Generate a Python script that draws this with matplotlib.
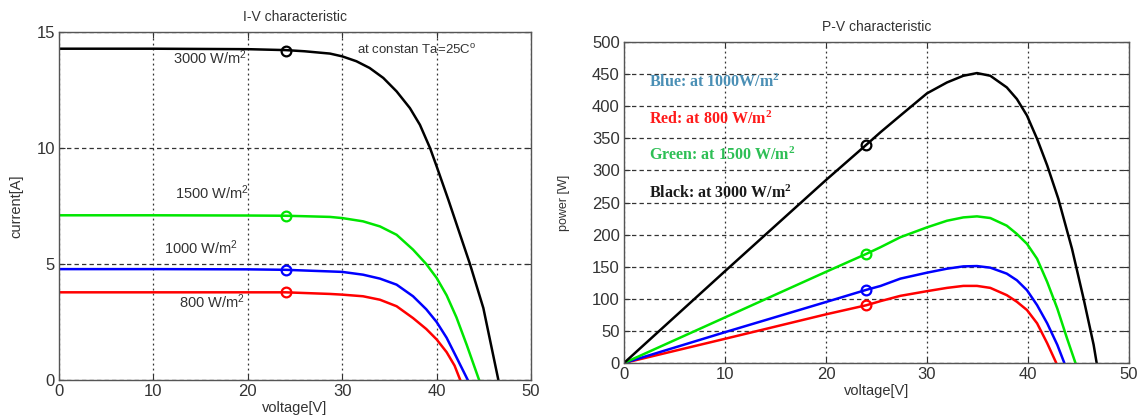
import matplotlib
matplotlib.use("Agg")
import matplotlib.pyplot as plt

plt.rcParams['font.family'] = ['Liberation Sans', 'DejaVu Sans']
plt.rcParams['mathtext.default'] = 'regular'

# I-V curves (voltage [V], current [A]) for each irradiance
iv_v_800 = [0, 10, 20, 24, 26, 28.7, 30, 32.2, 34.0, 35.76, 37.5, 38.9, 40, 41.06, 41.9, 42.5]
iv_i_800 = [3.78, 3.78, 3.78, 3.78, 3.75, 3.71, 3.68, 3.61, 3.46, 3.18, 2.67, 2.2, 1.75, 1.2, 0.62, 0]
iv_v_1000 = [0, 10, 20, 24, 26, 28.7, 30, 32.2, 34.0, 35.76, 37.5, 38.9, 40, 41.06, 42.1, 43.3]
iv_i_1000 = [4.78, 4.78, 4.77, 4.75, 4.72, 4.68, 4.66, 4.54, 4.37, 4.11, 3.61, 3.05, 2.5, 1.82, 0.98, 0]
iv_v_1500 = [0, 10, 20, 24, 26, 28.7, 30, 32.2, 34.0, 35.76, 37.5, 38.9, 40, 41.06, 42.1, 43.2, 44.5]
iv_i_1500 = [7.1, 7.1, 7.09, 7.08, 7.06, 7.03, 6.98, 6.84, 6.62, 6.26, 5.62, 5.0, 4.4, 3.65, 2.7, 1.5, 0]
iv_v_3000 = [0, 10, 20, 24, 26, 28.7, 30, 31.5, 32.9, 34.35, 35.76, 37.17, 38.23, 39.3, 40,
             41.24, 43.53, 44.95, 46.54]
iv_i_3000 = [14.28, 14.28, 14.26, 14.22, 14.17, 14.07, 13.95, 13.74, 13.45, 13.02, 12.44, 11.72, 11.0, 10.0, 9.21,
             7.77, 5.0, 3.1, 0]

# P-V curves (voltage [V], power [W])
pv_v_800 = [0, 10, 20, 24, 25.4, 27.36, 30, 31.98, 33.6, 34.95, 36.27, 37.9, 38.9, 39.9, 40.9, 41.9, 42.8]
pv_p_800 = [0, 37.7, 75.8, 90, 96.4, 104.6, 111.9, 117, 120.1, 120.1, 117, 105.7, 95.4, 82.5, 61.9, 30.9, 0]
pv_v_1000 = [0, 10, 20, 24, 25.4, 27.36, 30, 31.98, 33.6, 34.95, 36.27, 37.9, 38.9, 39.9, 40.9, 41.9, 42.9, 43.6]
pv_p_1000 = [0, 48, 95, 114, 120, 131.4, 140.7, 146.9, 150.5, 151, 148.5, 139.2, 128.9, 113.4, 90.2, 61.9, 28.4, 0]
pv_v_1500 = [0, 10, 20, 24, 25.4, 27.36, 30, 31.98, 33.6, 34.95, 36.27, 37.9, 38.9, 39.9, 40.9, 41.9, 42.9,
             43.86, 44.7]
pv_p_1500 = [0, 71, 142, 170, 180.4, 195.9, 211.3, 221.6, 226.8, 228.4, 225.8, 213.9, 201, 185.6, 162.4, 126.3, 85,
             38.7, 0]
pv_v_3000 = [0, 10, 20, 24, 25.4, 27.36, 30, 31.98, 33.6, 34.95, 36.27, 37.9, 38.9, 39.9, 40.9, 41.9, 43.0,
             44.36, 45.5, 46.5, 46.8]
pv_p_3000 = [0, 143, 285, 340, 359.5, 385.4, 420, 437, 447.4, 451.6, 447.4, 429.3, 411.2, 385.4, 349.2, 307.8, 256,
             177.8, 100.5, 28.4, 0]

# operating points marked on every curve
v_op = 24
i_op = [3.78, 4.75, 7.08, 14.2]
p_op = [90, 114, 170, 340]

colors = ['#ff0000', '#0000ff', '#00e600', 'black']

fig = plt.figure(figsize=(11.42, 4.2), dpi=100)
ax1 = fig.add_axes([0.0517, 0.0952, 0.4133, 0.8286])
ax2 = fig.add_axes([0.5464, 0.1357, 0.4422, 0.7643])


def style_axes(ax):
    for s in ax.spines.values():
        s.set_color('#555555')
        s.set_linewidth(1.0)
    ax.tick_params(direction='in', top=True, right=True, length=4,
                   labelsize=12, colors='#333333', pad=3)
    ax.grid(True, axis='x', color='#333333', linewidth=0.9, linestyle=(0, (1.5, 2.5)))
    ax.grid(True, axis='y', color='#333333', linewidth=0.9, linestyle=(0, (3.5, 2.5)))
    ax.set_axisbelow(True)


# I-V characteristic
ax1.plot(iv_v_800, iv_i_800, color=colors[0], lw=1.8)
ax1.plot(iv_v_1000, iv_i_1000, color=colors[1], lw=1.8)
ax1.plot(iv_v_1500, iv_i_1500, color=colors[2], lw=1.8)
ax1.plot(iv_v_3000, iv_i_3000, color=colors[3], lw=1.8)
for c, i in zip(colors, i_op):
    ax1.plot(v_op, i, 'o', mfc='none', mec=c, ms=7, mew=1.6)
ax1.set_xlim(0, 50)
ax1.set_ylim(0, 15)
ax1.set_xticks([0, 10, 20, 30, 40, 50])
ax1.set_yticks([0, 5, 10, 15])
style_axes(ax1)
ax1.set_title('I-V characteristic', fontsize=10, color='#333333', pad=8)
ax1.set_xlabel('voltage[V]', fontsize=10.5, color='#333333', labelpad=1)
ax1.set_ylabel('current[A]', fontsize=10.5, color='#333333', labelpad=9)
ax1.text(12.1, 13.9, '3000 W/m$^2$', fontsize=10.5, color='#333333', va='center')
ax1.text(12.3, 8.07, '1500 W/m$^2$', fontsize=10.5, color='#333333', va='center')
ax1.text(11.1, 5.7, '1000 W/m$^2$', fontsize=10.5, color='#333333', va='center')
ax1.text(12.7, 3.39, '800 W/m$^2$', fontsize=10.5, color='#333333', va='center')
ax1.text(31.6, 14.25, 'at constan Ta=25C$^o$', fontsize=9.5, color='#333333', va='center')

# P-V characteristic
ax2.plot(pv_v_800, pv_p_800, color=colors[0], lw=1.8)
ax2.plot(pv_v_1000, pv_p_1000, color=colors[1], lw=1.8)
ax2.plot(pv_v_1500, pv_p_1500, color=colors[2], lw=1.8)
ax2.plot(pv_v_3000, pv_p_3000, color=colors[3], lw=1.8)
for c, p in zip(colors, p_op):
    ax2.plot(v_op, p, 'o', mfc='none', mec=c, ms=7, mew=1.6)
ax2.set_xlim(0, 50)
ax2.set_ylim(0, 500)
ax2.set_xticks([0, 10, 20, 30, 40, 50])
ax2.set_yticks(range(0, 501, 50))
style_axes(ax2)
ax2.set_title('P-V characteristic', fontsize=10, color='#333333', pad=8)
ax2.set_xlabel('voltage[V]', fontsize=10.5, color='#333333', labelpad=1)
ax2.set_ylabel('power [W]', fontsize=9, color='#333333', labelpad=16)

serif = ['Liberation Serif', 'DejaVu Serif']
ax2.text(2.5, 437, 'Blue: at 1000W/m$^2$', family=serif, weight='bold',
         fontsize=11.5, color='#4a8fb5', va='center')
ax2.text(2.5, 379, 'Red: at 800 W/m$^2$', family=serif, weight='bold',
         fontsize=11.5, color='#ff1a1a', va='center')
ax2.text(2.5, 323, 'Green: at 1500 W/m$^2$', family=serif, weight='bold',
         fontsize=11.5, color='#2dbf55', va='center')
ax2.text(2.5, 265, 'Black: at 3000 W/m$^2$', family=serif, weight='bold',
         fontsize=11.5, color='#1a1a1a', va='center')

fig.savefig('out.png', dpi=100)
